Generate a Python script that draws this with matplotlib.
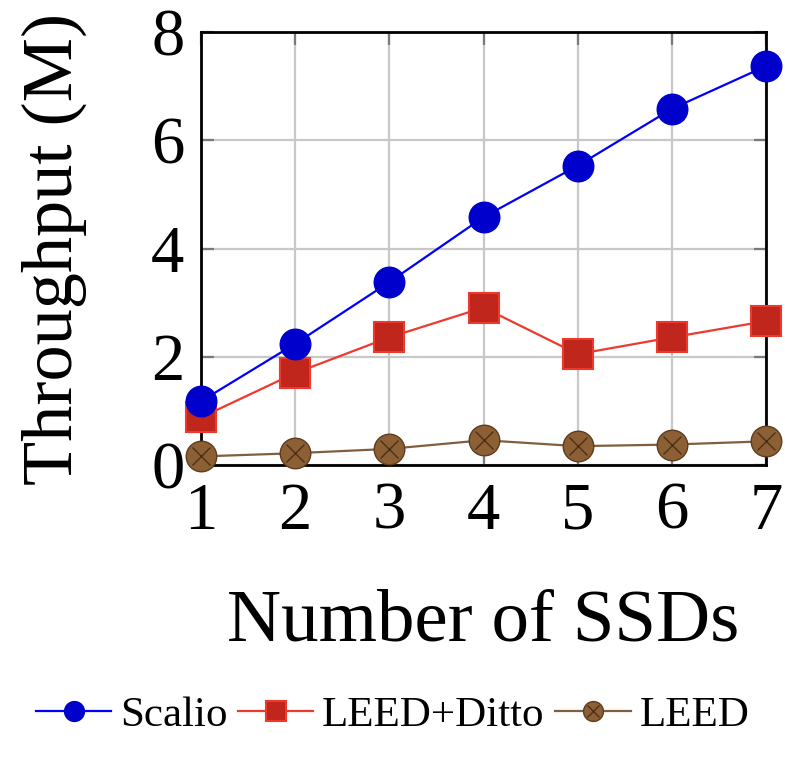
import matplotlib
matplotlib.use("Agg")
import matplotlib.pyplot as plt
from matplotlib.legend_handler import HandlerTuple

ssds = [1, 2, 3, 4, 5, 6, 7]
scalio = [1.18, 2.24, 3.38, 4.58, 5.53, 6.58, 7.37]
leed_ditto = [0.88, 1.70, 2.36, 2.91, 2.05, 2.36, 2.66]
leed = [0.16, 0.22, 0.30, 0.46, 0.35, 0.38, 0.44]
yticks = [0, 2, 4, 6, 8]

plt.rcParams['font.family'] = ['Liberation Serif', 'DejaVu Serif']

fig = plt.figure(figsize=(7.85, 7.6), dpi=100)
ax = fig.add_axes([0.256, 0.388, 0.720, 0.570])

l1, = ax.plot(ssds, scalio, color='#0000ff', lw=1.6, marker='o', ms=22,
              mfc='#0000cc', mec='#0000cc', clip_on=False, zorder=5)
l2, = ax.plot(ssds, leed_ditto, color='#ee3a2e', lw=1.6, marker='s', ms=22,
              mfc='#c0261c', mec='#ee3a2e', mew=1.5, clip_on=False, zorder=4)
l3, = ax.plot(ssds, leed, color='#7f5f3f', lw=1.6, marker='o', ms=22,
              mfc='#8c5f35', mec='#5e3d1e', mew=1.0, clip_on=False, zorder=3)
l3x, = ax.plot(ssds, leed, ls='none', marker='x', ms=13, mec='#4a3018',
               mew=1.0, clip_on=False, zorder=3.5)

ax.set_xlim(1, 7)
ax.set_ylim(0, 8)
ax.set_xticks(ssds)
ax.set_yticks(yticks)
ax.grid(True, color='#c8c8c8', lw=1.6)
ax.set_axisbelow(True)
for s in ax.spines.values():
    s.set_linewidth(2.0)
    s.set_color('black')
ax.tick_params(direction='in', length=9, width=1.6, color='#7a7a7a',
               labelsize=48, top=True, right=True, pad=12)

ax.set_xlabel('Number of SSDs', fontsize=54, labelpad=33)
ax.set_ylabel('Throughput (M)', fontsize=52, labelpad=46)

leg = fig.legend([l1, l2, (l3, l3x)], ['Scalio', 'LEED+Ditto', 'LEED'],
                 handler_map={tuple: HandlerTuple(ndivide=1)},
                 loc='center', bbox_to_anchor=(0.5, 0.058), ncol=3,
                 frameon=False, fontsize=31, handlelength=1.75,
                 handletextpad=0.2, columnspacing=0.25, markerscale=0.65)

fig.savefig('out.png', dpi=100)
